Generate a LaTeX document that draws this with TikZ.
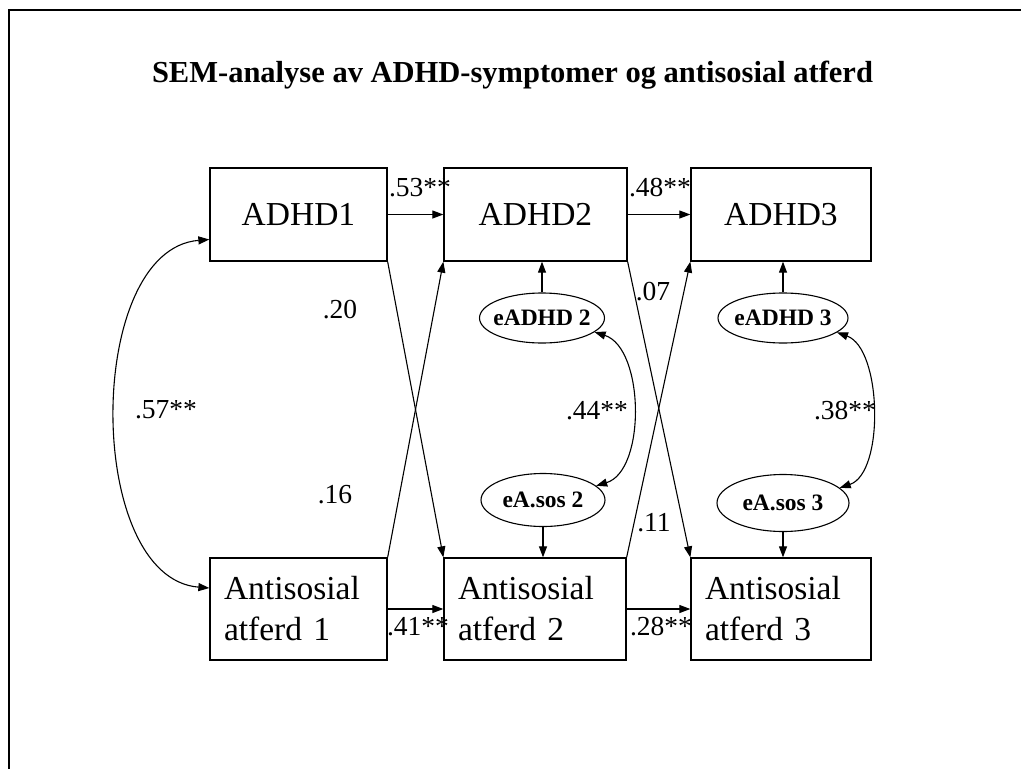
\documentclass[tikz,border=0pt]{standalone}
\usepackage{fontspec}
\setmainfont{Liberation Serif}
\usetikzlibrary{arrows.meta,shapes.geometric}
\begin{document}
\begin{tikzpicture}[x=1pt,y=-1pt,
  box/.style={draw,line width=1.3pt,inner sep=0pt,minimum height=93pt,font=\fontsize{33.5}{38}\selectfont},
  abox/.style={draw,line width=1.3pt,inner xsep=14pt,inner ysep=0pt,minimum height=102pt,align=left,font=\fontsize{33.5}{41}\selectfont},
  err/.style={draw,ellipse,line width=1.1pt,inner sep=0pt,font=\fontsize{23.5}{26}\selectfont\bfseries},
  lab/.style={inner sep=0pt,font=\fontsize{27.5}{30}\selectfont},
  arr/.style={line width=1.1pt,-{Triangle[length=11pt,width=8pt]}},
  dbl/.style={line width=1.1pt,{Triangle[length=11pt,width=8pt]}-{Triangle[length=11pt,width=8pt]}}]
\useasboundingbox (0,0) rectangle (1021,769);
\fill[white] (0,0) rectangle (1021,769);
\draw[line width=2.5pt] (9,769) -- (9,10) -- (1021,10);

\node[font=\fontsize{30.5}{34}\selectfont\bfseries] (title) at (512.5,75) {SEM-analyse av ADHD-symptomer og antisosial atferd};

\node[box,minimum width=177pt] (adhd1) at (298.5,214.5) {ADHD1};
\node[box,minimum width=183pt] (adhd2) at (535.5,214.5) {ADHD2};
\node[box,minimum width=180pt] (adhd3) at (781,214.5) {ADHD3};
\node[abox,text width=149pt] (anti1) at (298.5,609) {Antisosial\\atferd 1};
\node[abox,text width=154pt] (anti2) at (535,609) {Antisosial\\atferd 2};
\node[abox,text width=152pt] (anti3) at (781,609) {Antisosial\\atferd 3};

\node[err,minimum width=125pt,minimum height=50pt] (e2a) at (542,318) {\makebox[0pt]{eADHD 2}};
\node[err,minimum width=124pt,minimum height=53pt] (e2s) at (543,500) {\makebox[0pt]{eA.sos 2}};
\node[err,minimum width=130pt,minimum height=50pt] (e3a) at (783,318) {\makebox[0pt]{eADHD 3}};
\node[err,minimum width=132pt,minimum height=57pt] (e3s) at (783,503) {\makebox[0pt]{eA.sos 3}};

% paths
\draw[arr] (adhd1.east) -- (adhd2.west);
\draw[arr] (adhd2.east) -- (adhd3.west);
\draw[arr] (anti1.east) -- (anti2.west);
\draw[arr] (anti2.east) -- (anti3.west);
\draw[arr] (adhd1.south east) -- (anti2.north west);
\draw[arr] (anti1.north east) -- (adhd2.south west);
\draw[arr] (adhd2.south east) -- (anti3.north west);
\draw[arr] (anti2.north east) -- (adhd3.south west);

\draw[arr] (e2a.north) -- (e2a.north |- adhd2.south);
\draw[arr] (e3a.north) -- (e3a.north |- adhd3.south);
\draw[arr] (e2s.south) -- (e2s.south |- anti2.north);
\draw[arr] (e3s.south) -- (e3s.south |- anti3.north);

\draw[dbl] ([yshift=-25pt]adhd1.west) .. controls +(-125,10) and +(-125,-10) .. ([yshift=21pt]anti1.west);
\draw[dbl] (e2a.-15) .. controls +(50,16) and +(50,-15) .. (e2s.15);
\draw[dbl] (e3a.-15) .. controls +(45,16) and +(45,-15) .. (e3s.15);

% labels
\node[lab] (l53) at (420,188) {.53**};
\node[lab] (l48) at (660,188) {.48**};
\node[lab] (l41) at (418,627) {.41**};
\node[lab] (l28) at (661,627) {.28**};
\node[lab] (l20) at (340,310) {.20};
\node[lab] (l16) at (335,495) {.16};
\node[lab] (l07) at (653,292) {.07};
\node[lab] (l11) at (654,523) {.11};
\node[lab] (l44) at (597,411) {.44**};
\node[lab] (l38) at (845,411) {.38**};
\node[lab] (l57) at (166,410) {.57**};
\end{tikzpicture}
\end{document}
